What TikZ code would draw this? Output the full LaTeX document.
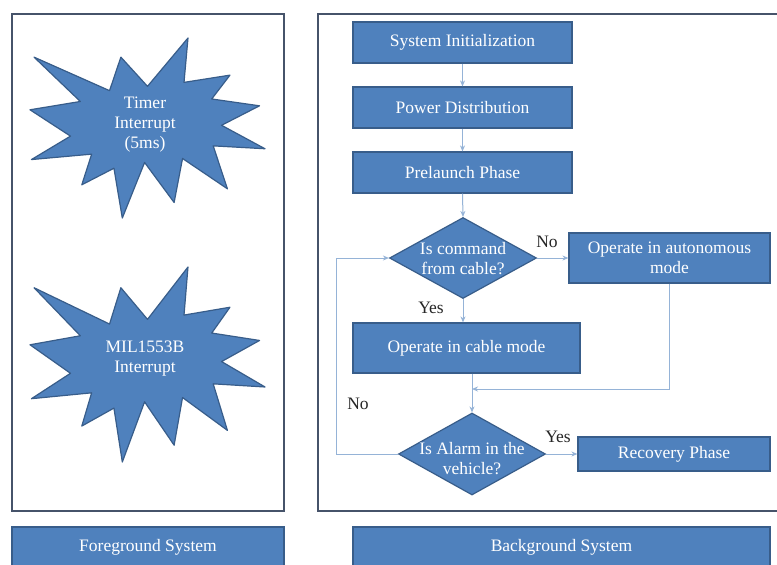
\documentclass[tikz,border=0pt]{standalone}
\usepackage{fontspec}
\setmainfont{Liberation Serif}
\usetikzlibrary{shapes.geometric,arrows.meta}
\definecolor{boxblue}{HTML}{4F81BD}
\definecolor{boxedge}{HTML}{385D8A}
\definecolor{linkc}{HTML}{95B3D7}
\definecolor{panelc}{HTML}{46536A}
\newcommand\burstpts{(108,58) -- (145.22,0) -- (141.55,53.25) -- (183.80,44.57) -- (167.02,73.15) -- (210.97,81.37) -- (176.07,104.75) -- (216,132.90) -- (168.37,129.42) -- (181.45,180.95) -- (140.20,144.57) -- (132.47,197.37) -- (105.32,149.35) -- (84.85,216) -- (77.15,156.27) -- (47.62,176.17) -- (56.67,139.37) -- (1.35,145.87) -- (37.22,117.75) -- (0,86.15) -- (46.27,76.17) -- (3.70,22.95) -- (73.12,63.20) -- (83.52,22.95) -- cycle}
\begin{document}
\begin{tikzpicture}[x=1pt,y=-1pt,
  txt/.style={font=\fontsize{17.5}{20}\selectfont},
  bluebox/.style={txt, draw=boxedge, line width=1.2pt, fill=boxblue, text=white, align=center, inner sep=0pt},
  panelbox/.style={draw=panelc, line width=2.4pt, fill=white, inner sep=0pt},
  decision/.style={diamond, draw=boxedge, line width=1.2pt, fill=boxblue, inner sep=0pt},
  dtext/.style={txt, text=white, align=center, inner sep=0pt},
  burst/.style={draw=boxedge, line width=1.2pt, fill=boxblue, line join=round},
  link/.style={draw=linkc, line width=1pt, -{Stealth[length=6pt,width=5pt]}},
  plainlink/.style={draw=linkc, line width=1pt},
  lbl/.style={txt, text=black!85, inner sep=0pt}]
\useasboundingbox (0,0) rectangle (777,565);
\clip (0,0) rectangle (777,565);
\fill[white] (0,0) rectangle (777,565);

% panels
\node[panelbox, minimum width=272pt, minimum height=497pt] (fgpanel) at (148,262.5) {};
\node[panelbox, minimum width=472pt, minimum height=497pt] (bgpanel) at (554,262.5) {};

% bottom bars
\node[bluebox, minimum width=272pt, minimum height=40pt] (fgbar) at (148,547) {Foreground System};
\node[bluebox, minimum width=417pt, minimum height=40pt] (bgbar) at (561.5,547) {Background System};

% starbursts
\begin{scope}[shift={(30,38)}, xscale=235/216, yscale=180/216]
  \path[burst] \burstpts;
\end{scope}
\node[dtext] (timer) at (145,125) {Timer\\Interrupt\\(5ms)};
\begin{scope}[shift={(30,267)}, xscale=235/216, yscale=195/216]
  \path[burst] \burstpts;
\end{scope}
\node[dtext] (mil) at (145,359) {MIL1553B\\Interrupt};

% flow boxes
\node[bluebox, minimum width=219pt, minimum height=41pt] (init) at (462.5,42.5) {System Initialization};
\node[bluebox, minimum width=219pt, minimum height=41pt] (power) at (462.5,107.5) {Power Distribution};
\node[bluebox, minimum width=219pt, minimum height=41pt] (prelaunch) at (462.5,172.5) {Prelaunch Phase};
\node[decision, minimum width=147pt, minimum height=81pt] (d1) at (463,258) {};
\node[dtext] (d1t) at (463,258.5) {Is command\\from cable?};
\node[bluebox, minimum width=201pt, minimum height=50pt] (auto) at (669.5,258) {Operate in autonomous\\mode};
\node[bluebox, minimum width=227pt, minimum height=50pt] (cable) at (466.5,348) {Operate in cable mode};
\node[decision, minimum width=147pt, minimum height=82pt] (d2) at (472,454) {};
\node[dtext] (d2t) at (472,459) {Is Alarm in the\\vehicle?};
\node[bluebox, minimum width=192pt, minimum height=34pt] (recovery) at (674,454) {Recovery Phase};

% connectors
\coordinate (merge) at (472,389);
\coordinate (loopc) at (336,454);
\draw[link] (init) -- (power);
\draw[link] (power) -- (prelaunch);
\draw[link] (prelaunch.south) -- (d1.north);
\draw[link] (d1.east) -- (auto.west);
\draw[link] (d1.south) -- (d1.south |- cable.north);
\draw[plainlink] (cable.south -| d2.north) -- (merge);
\draw[link] (merge) -- (d2.north);
\draw[link] (auto.south) |- (merge);
\draw[link] (d2.east) -- (recovery.west);
\draw[link] (d2.west) -- (loopc) |- (d1.west);

% labels
\node[lbl] (no1) at (547,242) {No};
\node[lbl] (yes1) at (431,308) {Yes};
\node[lbl] (yes2) at (558,437) {Yes};
\node[lbl] (no2) at (358,404) {No};
\end{tikzpicture}
\end{document}
